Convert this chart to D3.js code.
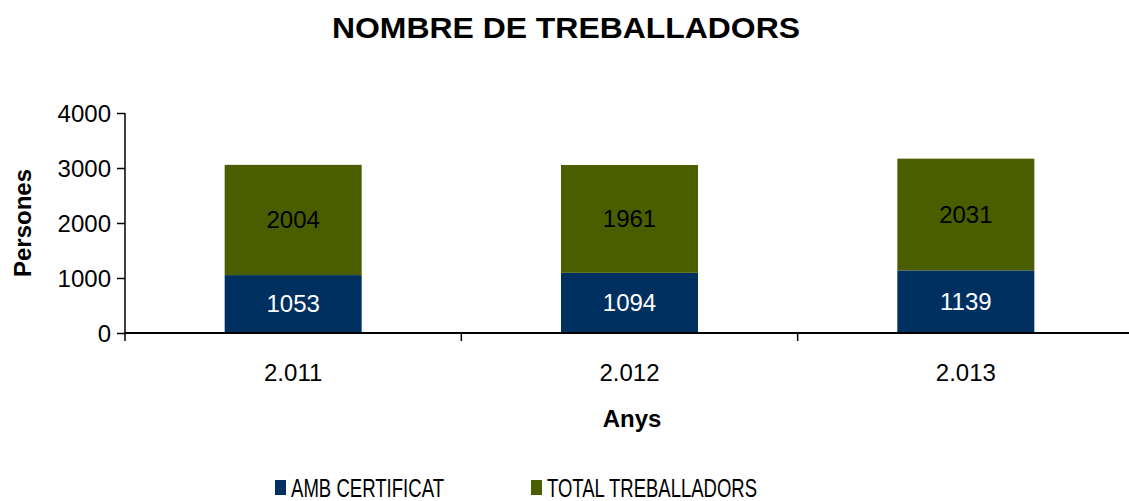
<!DOCTYPE html>
<html>
<head>
<meta charset="utf-8">
<script src="https://cdn.jsdelivr.net/npm/d3@7"></script>
<style>
body { margin: 0; background: #fff; }
text { font-family: "Liberation Sans", Arial, sans-serif; }
</style>
</head>
<body>
<script>
// data
var years = ["2.011", "2.012", "2.013"];
var ambCertificat = [1053, 1094, 1139];
var totalTreballadors = [2004, 1961, 2031];
var seriesNames = ["AMB CERTIFICAT", "TOTAL TREBALLADORS"];
var seriesColors = ["#003060", "#4a5e00"];
var yTicks = [0, 1000, 2000, 3000, 4000];

var w = 1129, h = 501;
var plotL = 125, plotR = 1134, plotT = 113, plotB = 333;

var rows = years.map((d, i) => ({year: d, amb: ambCertificat[i], total: totalTreballadors[i]}));

var svg = d3.select("body").append("svg")
  .attr("width", w)
  .attr("height", h);

var x = d3.scaleBand()
  .domain(years)
  .range([plotL, plotR]);

var y = d3.scaleLinear()
  .domain([0, 4000])
  .range([plotB, plotT]);

var stack = d3.stack().keys(["amb", "total"])(rows);

var barW = 137;

svg.append("g")
  .selectAll("g")
  .data(stack)
  .join("g")
  .attr("fill", (d, i) => seriesColors[i])
  .selectAll("rect")
  .data(d => d)
  .join("rect")
  .attr("x", d => x(d.data.year) + x.bandwidth() / 2 - barW / 2)
  .attr("width", barW)
  .attr("y", d => y(d[1]))
  .attr("height", d => y(d[0]) - y(d[1]));

// value labels
svg.append("g")
  .selectAll("g")
  .data(stack)
  .join("g")
  .attr("fill", (d, i) => i == 0 ? "#fff" : "#000")
  .selectAll("text")
  .data(d => d)
  .join("text")
  .attr("x", d => x(d.data.year) + x.bandwidth() / 2)
  .attr("y", d => (y(d[0]) + y(d[1])) / 2)
  .attr("dy", "0.35em")
  .attr("text-anchor", "middle")
  .attr("font-size", 24)
  .text(d => d[1] - d[0]);

// y axis
var yAxis = svg.append("g")
  .attr("transform", `translate(${plotL},0)`)
  .call(d3.axisLeft(y).tickValues(yTicks).tickFormat(d3.format("d")).tickSize(8).tickPadding(6));
yAxis.select(".domain").attr("stroke", "#000").attr("stroke-width", 1.5).attr("d", `M0,${plotT}V${plotB}`);
yAxis.selectAll(".tick line").attr("stroke", "#000").attr("stroke-width", 1.5);
yAxis.selectAll(".tick text")
  .attr("font-size", 24)
  .attr("font-family", "Liberation Sans, Arial, sans-serif")
  .attr("fill", "#000")
  .attr("dy", "0.36em");

// x axis
var xAxis = svg.append("g")
  .attr("transform", `translate(0,${plotB})`);
xAxis.append("line")
  .attr("x1", plotL).attr("x2", w)
  .attr("stroke", "#000").attr("stroke-width", 2);
xAxis.selectAll(".tk")
  .data(years.map((d, i) => plotL + i * x.step()).concat([plotR]))
  .join("line")
  .attr("class", "tk")
  .attr("x1", d => d).attr("x2", d => d)
  .attr("y1", 0).attr("y2", 8)
  .attr("stroke", "#000").attr("stroke-width", 1.5);
xAxis.selectAll("text")
  .data(years)
  .join("text")
  .attr("x", d => x(d) + x.bandwidth() / 2)
  .attr("y", 48)
  .attr("text-anchor", "middle")
  .attr("font-size", 24)
  .text(d => d);

// titles
svg.append("text")
  .attr("x", 566).attr("y", 38)
  .attr("text-anchor", "middle")
  .attr("font-size", 29)
  .attr("font-weight", "bold")
  .attr("textLength", 468)
  .attr("lengthAdjust", "spacingAndGlyphs")
  .text("NOMBRE DE TREBALLADORS");

svg.append("text")
  .attr("x", 632).attr("y", 427)
  .attr("text-anchor", "middle")
  .attr("font-size", 24)
  .attr("font-weight", "bold")
  .text("Anys");

svg.append("text")
  .attr("transform", `translate(31,${(plotT + plotB) / 2}) rotate(-90)`)
  .attr("text-anchor", "middle")
  .attr("font-size", 24)
  .attr("font-weight", "bold")
  .text("Persones");

// legend
var legendX = [275, 531];
var legendW = [153, 210];
var legend = svg.append("g")
  .selectAll("g")
  .data(seriesNames)
  .join("g")
  .attr("transform", (d, i) => `translate(${legendX[i]},480)`);
legend.append("rect")
  .attr("width", 11).attr("height", 15)
  .attr("fill", (d, i) => seriesColors[i]);
legend.append("text")
  .attr("x", 16).attr("y", 17)
  .attr("font-size", 25)
  .attr("textLength", (d, i) => legendW[i])
  .attr("lengthAdjust", "spacingAndGlyphs")
  .text(d => d);
</script>
</body>
</html>
